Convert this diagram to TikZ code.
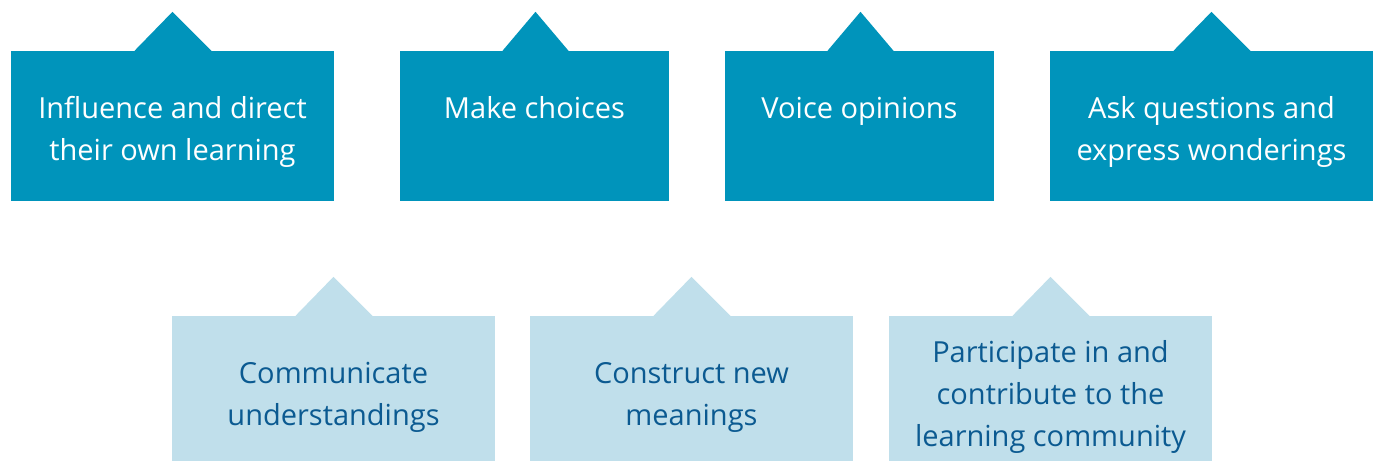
\documentclass[tikz,border=0pt]{standalone}
\usepackage{fontspec}
\setmainfont{Open Sans}
\usepackage{tikz}

\definecolor{tealbox}{HTML}{0094BB}
\definecolor{palebox}{HTML}{C0DFEB}
\definecolor{navytext}{HTML}{0B5A91}

\begin{document}
\begin{tikzpicture}[x=1pt,y=1pt,
        topbox/.style={fill=tealbox, inner sep=0pt, minimum height=150pt},
        lowbox/.style={fill=palebox, inner sep=0pt, minimum height=145pt},
        boxtext/.style={inner sep=0pt, align=center, font=\fontsize{29}{42}\selectfont}]
        \useasboundingbox (0,0) rectangle (1378,461);
        % top row
        \node[topbox, minimum width=323pt] (influence) at (172.5,335) {};
        \node[topbox, minimum width=269pt] (choices) at (534.5,335) {};
        \node[topbox, minimum width=269pt] (opinions) at (859.5,335) {};
        \node[topbox, minimum width=323pt] (questions) at (1211.5,335) {};
        \fill[tealbox] ([xshift=-38pt]influence.north) -- ([yshift=39pt]influence.north) -- ([xshift=39pt]influence.north) -- cycle;
        \fill[tealbox] ([xshift=-32pt]choices.north) -- ([xshift=1pt,yshift=39pt]choices.north) -- ([xshift=34pt]choices.north) -- cycle;
        \fill[tealbox] ([xshift=-32pt]opinions.north) -- ([xshift=1pt,yshift=39pt]opinions.north) -- ([xshift=34pt]opinions.north) -- cycle;
        \fill[tealbox] ([xshift=-38pt]questions.north) -- ([yshift=39pt]questions.north) -- ([xshift=39pt]questions.north) -- cycle;
        \node[boxtext, white, anchor=north] (influencetxt) at (172.5,372.4) {\strut Influence and direct\\their own learning\strut};
        \node[boxtext, white, anchor=north] (choicestxt) at (534.5,372.4) {\strut Make choices\strut};
        \node[boxtext, white, anchor=north] (opinionstxt) at (859.5,372.4) {\strut Voice opinions\strut};
        \node[boxtext, white, anchor=north] (questionstxt) at (1211.5,372.4) {\strut Ask questions and\\express wonderings\strut};
        % bottom row
        \node[lowbox, minimum width=323pt] (communicate) at (333.5,72.5) {};
        \node[lowbox, minimum width=323pt] (construct) at (691.5,72.5) {};
        \node[lowbox, minimum width=323pt] (participate) at (1050.5,72.5) {};
        \fill[palebox] ([xshift=-38pt]communicate.north) -- ([yshift=39pt]communicate.north) -- ([xshift=39pt]communicate.north) -- cycle;
        \fill[palebox] ([xshift=-38pt]construct.north) -- ([yshift=39pt]construct.north) -- ([xshift=39pt]construct.north) -- cycle;
        \fill[palebox] ([xshift=-38pt]participate.north) -- ([yshift=39pt]participate.north) -- ([xshift=39pt]participate.north) -- cycle;
        \node[boxtext, navytext] (communicatetxt) at (333.5,64.5) {\strut Communicate\\understandings\strut};
        \node[boxtext, navytext] (constructtxt) at (691.5,64.5) {\strut Construct new\\meanings\strut};
        \node[boxtext, navytext] (participatetxt) at (1050.5,64.5) {\strut Participate in and\\contribute to the\\learning community\strut};
    \end{tikzpicture}
\end{document}
